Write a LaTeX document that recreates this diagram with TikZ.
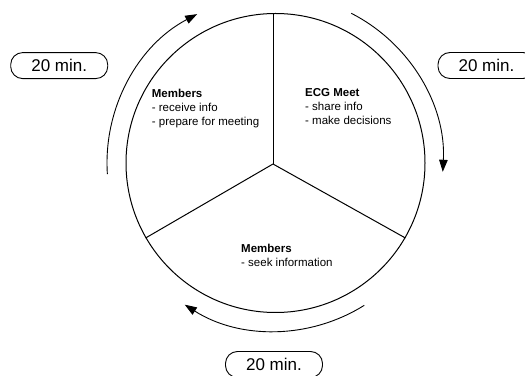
\documentclass[tikz,border=0pt]{standalone}
\usepackage{fontspec}
\setmainfont{Liberation Sans}
\usetikzlibrary{arrows.meta,calc}
\begin{document}
\begin{tikzpicture}[x=1pt,y=1pt,
  cyc/.style={line width=0.9pt, -{Triangle[length=12pt,width=8.5pt]}},
  tbox/.style={draw, line width=0.9pt, rounded corners=12pt, minimum width=97pt, minimum height=26pt, inner sep=0pt, font=\fontsize{17}{19}\selectfont},
  seg/.style={anchor=north west, align=left, inner sep=0pt, font=\fontsize{11.5}{14}\selectfont},
  spoke/.style={line width=1pt}
]
\useasboundingbox (0,0) rectangle (525,375);
\fill[white] (0,0) rectangle (525,375);
\clip (0,0) rectangle (525,375);
\coordinate (C) at (275,212);
\node[circle, draw, line width=1pt, minimum size=299pt, inner sep=0pt] (wheel) at (275.5,212) {};
\coordinate (hub) at (273,211);
\draw[spoke] (hub) -- (hub |- wheel.north);
\draw[spoke] (hub) -- (wheel.210);
\draw[spoke] (hub) -- (wheel.330);
\node[seg] (t1) at (151.7,286) {\textbf{Members}\\- receive info\\- prepare for meeting};
\node[seg] (t2) at (305,286.4) {\textbf{ECG Meet}\\- share info\\- make decisions};
\node[seg] (t3) at (241,131) {\textbf{Members}\\- seek information};
\coordinate (a1) at ($(C)+(183.8:168)$);
\coordinate (a2) at ($(C)+(63:168)$);
\coordinate (a3) at ($(C)+(-57.9:168)$);
\draw[cyc] (a1) arc[start angle=183.8, end angle=117.6, radius=168];
\draw[cyc] (a2) arc[start angle=63, end angle=-3, radius=168];
\draw[cyc] (a3) arc[start angle=-57.9, end angle=-122.5, radius=168];
\node[tbox] (m1) at (59.2,309.4) {20 min.};
\node[tbox] (m2) at (486.5,309.5) {20 min.};
\node[tbox] (m3) at (274,10.5) {20 min.};
\end{tikzpicture}
\end{document}
